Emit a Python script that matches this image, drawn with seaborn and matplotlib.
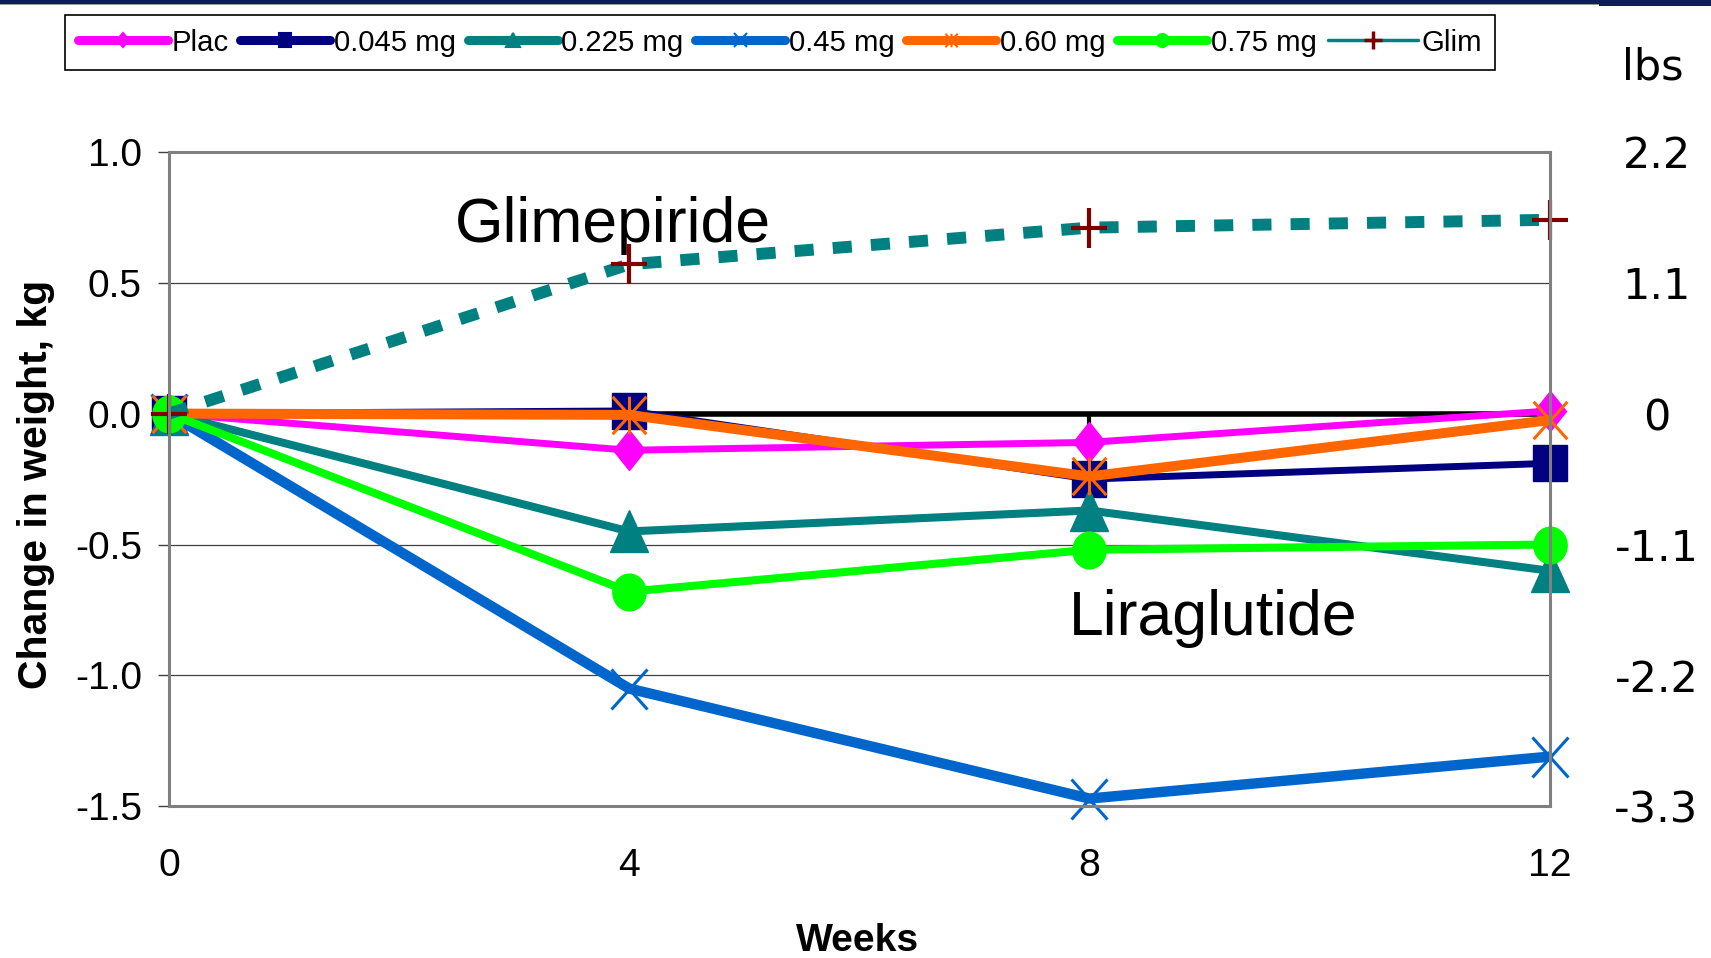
import matplotlib
matplotlib.use("Agg")
import matplotlib.pyplot as plt
import matplotlib.font_manager as fm
from matplotlib.lines import Line2D
from matplotlib.markers import MarkerStyle
from matplotlib.patches import Rectangle
from matplotlib.path import Path
from matplotlib.transforms import Affine2D
import pandas as pd
import seaborn as sns

# ---- data -------------------------------------------------------------
weeks = [0, 4, 8, 12]
plac = [0.0, -0.14, -0.11, 0.01]
lira_0045 = [0.0, 0.01, -0.25, -0.19]
lira_0225 = [0.0, -0.45, -0.37, -0.60]
lira_045 = [0.0, -1.05, -1.47, -1.31]
lira_060 = [0.0, -0.005, -0.24, -0.025]
lira_075 = [0.0, -0.68, -0.52, -0.50]
glim = [0.0, 0.57, 0.71, 0.74]
series_labels = ["Plac", "0.045 mg", "0.225 mg", "0.45 mg", "0.60 mg", "0.75 mg", "Glim"]

week_ticks = [0, 4, 8, 12]
kg_ticks = [1.0, 0.5, 0.0, -0.5, -1.0, -1.5]
kg_tick_labels = ["1.0", "0.5", "0.0", "-0.5", "-1.0", "-1.5"]
lbs_ticks = [2.2, 1.1, 0.0, -1.1, -2.2, -3.3]
lbs_tick_labels = ["2.2", "1.1", "0", "-1.1", "-2.2", "-3.3"]
placebo_whisker_wk8 = [0.0, -0.06]

df = pd.DataFrame({
    "Weeks": weeks * 7,
    "kg": plac + lira_0045 + lira_0225 + lira_045 + lira_060 + lira_075 + glim,
    "group": [lab for lab in series_labels for _ in weeks],
})

# ---- fonts / colours --------------------------------------------------
sns.set_style("white")
names = {f.name for f in fm.fontManager.ttflist}
HAS_NARROW = "Liberation Sans Narrow" in names
NARROW = "Liberation Sans Narrow" if HAS_NARROW else "Liberation Sans"
nscale = 1.0 if HAS_NARROW else 0.88
plt.rcParams["font.family"] = ["Liberation Sans", "DejaVu Sans"]
plt.rcParams["text.color"] = "black"
plt.rcParams["axes.labelcolor"] = "black"
plt.rcParams["xtick.color"] = "black"
plt.rcParams["ytick.color"] = "black"

# ---- marker shapes ----------------------------------------------------
def stretched(m, sy):
    return MarkerStyle(m, transform=Affine2D().scale(1.0, sy))

star_path = Path(
    [(0, -1), (0, 1), (-0.9, -1), (0.9, 1), (-0.9, 1), (0.9, -1)],
    [Path.MOVETO, Path.LINETO, Path.MOVETO, Path.LINETO, Path.MOVETO, Path.LINETO],
)

styles = {
    "Plac": dict(color="#FF00FF", marker=stretched("D", 1.25), markersize=16,
                 lw=5.0, mew=1, mec="#FF00FF"),
    "0.045 mg": dict(color="#000080", marker=stretched("s", 1.1), markersize=24,
                     lw=5.0, mew=1, mec="#000080"),
    "0.225 mg": dict(color="#008080", marker=stretched("^", 1.1), markersize=27,
                     lw=5.8, mew=1, mec="#008080"),
    "0.45 mg": dict(color="#0066CC", marker=stretched("x", 1.1), markersize=26,
                    lw=7.5, mew=2.2, mec="#0066CC"),
    "0.60 mg": dict(color="#FF6600", marker=MarkerStyle(star_path), markersize=27,
                    lw=7.2, mew=2.2, mec="#FF6600", mfc="none"),
    "0.75 mg": dict(color="#00FF00", marker=stretched("o", 1.1), markersize=24,
                    lw=5.8, mew=1, mec="#00FF00"),
    "Glim": dict(color="#008080", marker=stretched("+", 1.1), markersize=26,
                 lw=8.6, mew=3, mec="#800000"),
}

# ---- figure -----------------------------------------------------------
W, H = 1711, 958
fig = plt.figure(figsize=(W / 100, H / 100), dpi=100)
ax = fig.add_axes([169 / W, 1 - 806.4 / H, 1380.5 / W, 654.7 / H])

ax.axhline(0, color="black", lw=4, zorder=1.9)
ax.vlines(8, placebo_whisker_wk8[1], placebo_whisker_wk8[0], color="black", lw=3, zorder=1.9)

for lab in series_labels:
    sub = df[df["group"] == lab]
    st = styles[lab]
    sns.lineplot(data=sub, x="Weeks", y="kg", ax=ax, errorbar=None, legend=False,
                 clip_on=False, solid_capstyle="butt", **st)
    if lab == "Glim":
        ln = ax.lines[-1]
        ln.set_linestyle((0, (1.6, 1.6)))
        ln.set_dash_capstyle("butt")

ax.set_xlim(0, 12)
ax.set_ylim(-1.5, 1.0)
ax.set_xticks(week_ticks)
ax.set_xticklabels([str(w) for w in week_ticks], fontfamily=NARROW, fontsize=32 * nscale)
ax.set_yticks(kg_ticks)
ax.set_yticklabels(kg_tick_labels, fontsize=28)
ax.tick_params(axis="x", length=0, pad=30)
ax.tick_params(axis="y", length=8, width=1, color="#404040", pad=11.5, direction="out")
ax.yaxis.grid(True, color="#404040", lw=0.9)
ax.xaxis.grid(False)
ax.set_axisbelow(True)
for sp in ax.spines.values():
    sp.set_visible(True)
    sp.set_color("#808080")
    sp.set_linewidth(2.2)

ax.set_xlabel("Weeks", fontfamily=NARROW, fontweight="bold", fontsize=32 * nscale)
ax.xaxis.set_label_coords(0.4986, -0.206)
ax.xaxis.label.set_verticalalignment("center")
ax.set_ylabel("Change in weight, kg", fontweight="bold", fontsize=29.5)
ax.yaxis.set_label_coords(-0.0965, 0.4925)
ax.yaxis.label.set_verticalalignment("center")

ax.text(2.487, 0.655, "Glimepiride", fontsize=45, ha="left", va="baseline")
ax.text(7.82, -0.845, "Liraglutide", fontsize=45, ha="left", va="baseline")

# pounds scale on the right
ax2 = ax.twinx()
ax2.set_ylim(-3.3, 2.2)
ax2.set_yticks(lbs_ticks)
ax2.set_yticklabels(lbs_tick_labels, fontfamily="DejaVu Sans", fontsize=31)
for t in ax2.get_yticklabels():
    t.set_horizontalalignment("center")
ax2.tick_params(axis="y", length=0, pad=77, colors="black")
for sp in ax2.spines.values():
    sp.set_visible(False)
fig.text(1653 / W, 1 - 68 / H, "lbs", fontfamily="DejaVu Sans", fontsize=31,
         ha="center", va="center")

# legend
fs_leg = 24 * nscale
leg_handles = []
for lab in series_labels:
    st = styles[lab]
    if lab == "Glim":
        h = Line2D([], [], color="#008080", lw=2.5, marker="+", markersize=13,
                   mew=2.5, mec="#800000")
    else:
        m = st["marker"]
        h = Line2D([], [], color=st["color"], lw=6.5, solid_capstyle="round",
                   marker=m, markersize=st["markersize"] * 0.36,
                   mec=st["color"], mfc=st.get("mfc", st["color"]), mew=1.5)
    leg_handles.append(h)
leg = fig.legend(leg_handles, series_labels, loc="center",
                 bbox_to_anchor=(0.4559, 0.9556), ncol=7, frameon=True,
                 fancybox=False, edgecolor="black", framealpha=1,
                 handlelength=90 / (fs_leg * 100 / 72), handletextpad=0.12,
                 columnspacing=0.4, borderpad=0.45, borderaxespad=0,
                 prop={"family": NARROW, "size": fs_leg})
leg.get_frame().set_linewidth(1.2)

# header strip
fig.add_artist(Rectangle((0, 1 - 3.5 / H), 1600 / W, 3.5 / H, transform=fig.transFigure,
                         color="#0B1D5A", lw=0))
fig.add_artist(Rectangle((0, 1 - 5 / H), 1600 / W, 1.5 / H, transform=fig.transFigure,
                         color="#9A9A9A", lw=0))
fig.add_artist(Rectangle((1599 / W, 1 - 6 / H), 112 / W, 6 / H, transform=fig.transFigure,
                         color="#0B1D5A", lw=0))

fig.savefig("out.png", dpi=100)
